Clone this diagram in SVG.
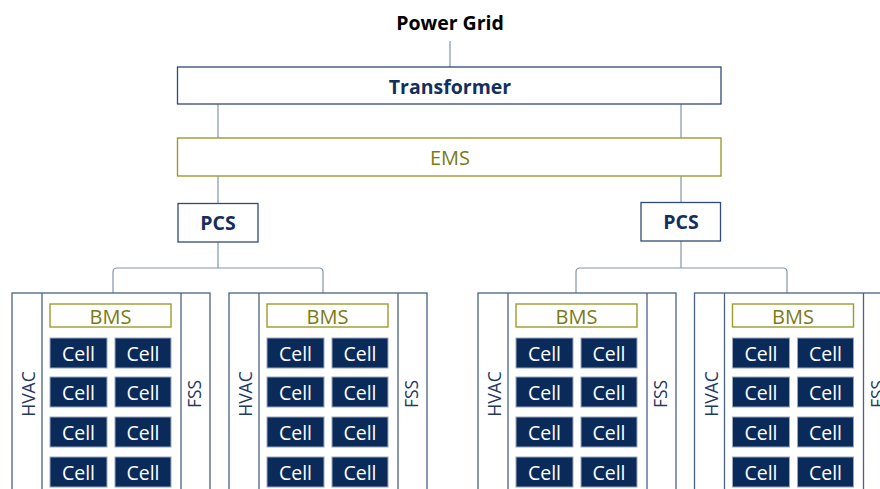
<svg xmlns="http://www.w3.org/2000/svg" width="880" height="489" viewBox="0 0 880 489">
<style>
text{font-family:"Open Sans","Noto Sans","Liberation Sans",sans-serif;}
.box{fill:#fff;stroke:#2f4a78;stroke-width:1.3;}
.olive{fill:#fff;stroke:#9c9c2e;stroke-width:1.4;}
.ttl{font-size:19.5px;font-weight:bold;fill:#142f5e;text-anchor:middle;}
.otx{font-size:20px;fill:#7b7b14;text-anchor:middle;}
.cont{fill:#fff;stroke:#4a6286;stroke-width:1.3;}
.div{stroke:#4a6286;stroke-width:1.3;}
.cell{fill:#0a2a5a;stroke:#9aa8bd;stroke-width:1;}
.ctx{font-size:19.5px;fill:#fff;text-anchor:middle;}
.side{font-size:17.5px;fill:#1f3864;text-anchor:middle;}
.con{fill:none;stroke:#8294ae;stroke-width:1.2;}
</style>
<defs>
<g id="cells">
<rect class="cell" x="38" y="338" width="57" height="30"/><text class="ctx" x="66.5" y="361">Cell</text>
<rect class="cell" x="103" y="338" width="56" height="30"/><text class="ctx" x="131" y="361">Cell</text>
<rect class="cell" x="38" y="377" width="57" height="30"/><text class="ctx" x="66.5" y="400">Cell</text>
<rect class="cell" x="103" y="377" width="56" height="30"/><text class="ctx" x="131" y="400">Cell</text>
<rect class="cell" x="38" y="417" width="57" height="30"/><text class="ctx" x="66.5" y="440">Cell</text>
<rect class="cell" x="103" y="417" width="56" height="30"/><text class="ctx" x="131" y="440">Cell</text>
<rect class="cell" x="38" y="457" width="57" height="30"/><text class="ctx" x="66.5" y="480">Cell</text>
<rect class="cell" x="103" y="457" width="56" height="30"/><text class="ctx" x="131" y="480">Cell</text>
</g>
</defs>
<g id="connectors">
<line class="con" x1="450" y1="41" x2="450" y2="67"/>
<line class="con" x1="218" y1="104" x2="218" y2="138"/>
<line class="con" x1="681" y1="104" x2="681" y2="138"/>
<line class="con" x1="218" y1="176" x2="218" y2="203"/>
<line class="con" x1="681" y1="176" x2="681" y2="202"/>
<line class="con" x1="218" y1="242" x2="218" y2="268"/>
<line class="con" x1="681" y1="241" x2="681" y2="268"/>
<path class="con" d="M113,293 V272 Q113,268 117,268 H319 Q323,268 323,272 V293"/>
<path class="con" d="M576,293 V272 Q576,268 580,268 H783 Q787,268 787,272 V293"/>
</g>
<g id="power-grid"><text x="450" y="30" style="font-size:19.5px;font-weight:bold;fill:#000;text-anchor:middle">Power Grid</text></g>
<g id="transformer"><rect class="box" x="177.5" y="67" width="543.5" height="37"/><text class="ttl" x="450" y="94">Transformer</text></g>
<g id="ems"><rect class="olive" x="177.5" y="138" width="543.5" height="38"/><text class="otx" x="450" y="165">EMS</text></g>
<g id="pcs-left"><rect class="box" x="178" y="203.5" width="80" height="38.5"/><text class="ttl" x="218" y="230">PCS</text></g>
<g id="pcs-right"><rect class="box" x="641" y="202.5" width="79.5" height="38.5"/><text class="ttl" x="681" y="229">PCS</text></g>
<g id="container-1" transform="translate(12,0)">
<rect class="cont" x="0" y="293" width="198" height="220"/>
<line class="div" x1="30" y1="293" x2="30" y2="500"/><line class="div" x1="169" y1="293" x2="169" y2="500"/>
<g id="bms-1"><rect class="olive" x="38" y="304" width="121" height="23"/><text class="otx" x="98.5" y="324">BMS</text></g>
<use href="#cells"/>
<g id="hvac-1"><text class="side" transform="translate(23,394) rotate(-90)">HVAC</text></g>
<g id="fss-1"><text class="side" transform="translate(189,394) rotate(-90)">FSS</text></g>
</g>
<g id="container-2" transform="translate(229,0)">
<rect class="cont" x="0" y="293" width="198" height="220"/>
<line class="div" x1="30" y1="293" x2="30" y2="500"/><line class="div" x1="169" y1="293" x2="169" y2="500"/>
<g id="bms-2"><rect class="olive" x="38" y="304" width="121" height="23"/><text class="otx" x="98.5" y="324">BMS</text></g>
<use href="#cells"/>
<g id="hvac-2"><text class="side" transform="translate(23,394) rotate(-90)">HVAC</text></g>
<g id="fss-2"><text class="side" transform="translate(189,394) rotate(-90)">FSS</text></g>
</g>
<g id="container-3" transform="translate(478,0)">
<rect class="cont" x="0" y="293" width="198" height="220"/>
<line class="div" x1="30" y1="293" x2="30" y2="500"/><line class="div" x1="169" y1="293" x2="169" y2="500"/>
<g id="bms-3"><rect class="olive" x="38" y="304" width="121" height="23"/><text class="otx" x="98.5" y="324">BMS</text></g>
<use href="#cells"/>
<g id="hvac-3"><text class="side" transform="translate(23,394) rotate(-90)">HVAC</text></g>
<g id="fss-3"><text class="side" transform="translate(189,394) rotate(-90)">FSS</text></g>
</g>
<g id="container-4" transform="translate(694.5,0)">
<rect class="cont" x="0" y="293" width="198" height="220"/>
<line class="div" x1="30" y1="293" x2="30" y2="500"/><line class="div" x1="169" y1="293" x2="169" y2="500"/>
<g id="bms-4"><rect class="olive" x="38" y="304" width="121" height="23"/><text class="otx" x="98.5" y="324">BMS</text></g>
<use href="#cells"/>
<g id="hvac-4"><text class="side" transform="translate(23,394) rotate(-90)">HVAC</text></g>
<g id="fss-4"><text class="side" transform="translate(189,394) rotate(-90)">FSS</text></g>
</g>
</svg>
